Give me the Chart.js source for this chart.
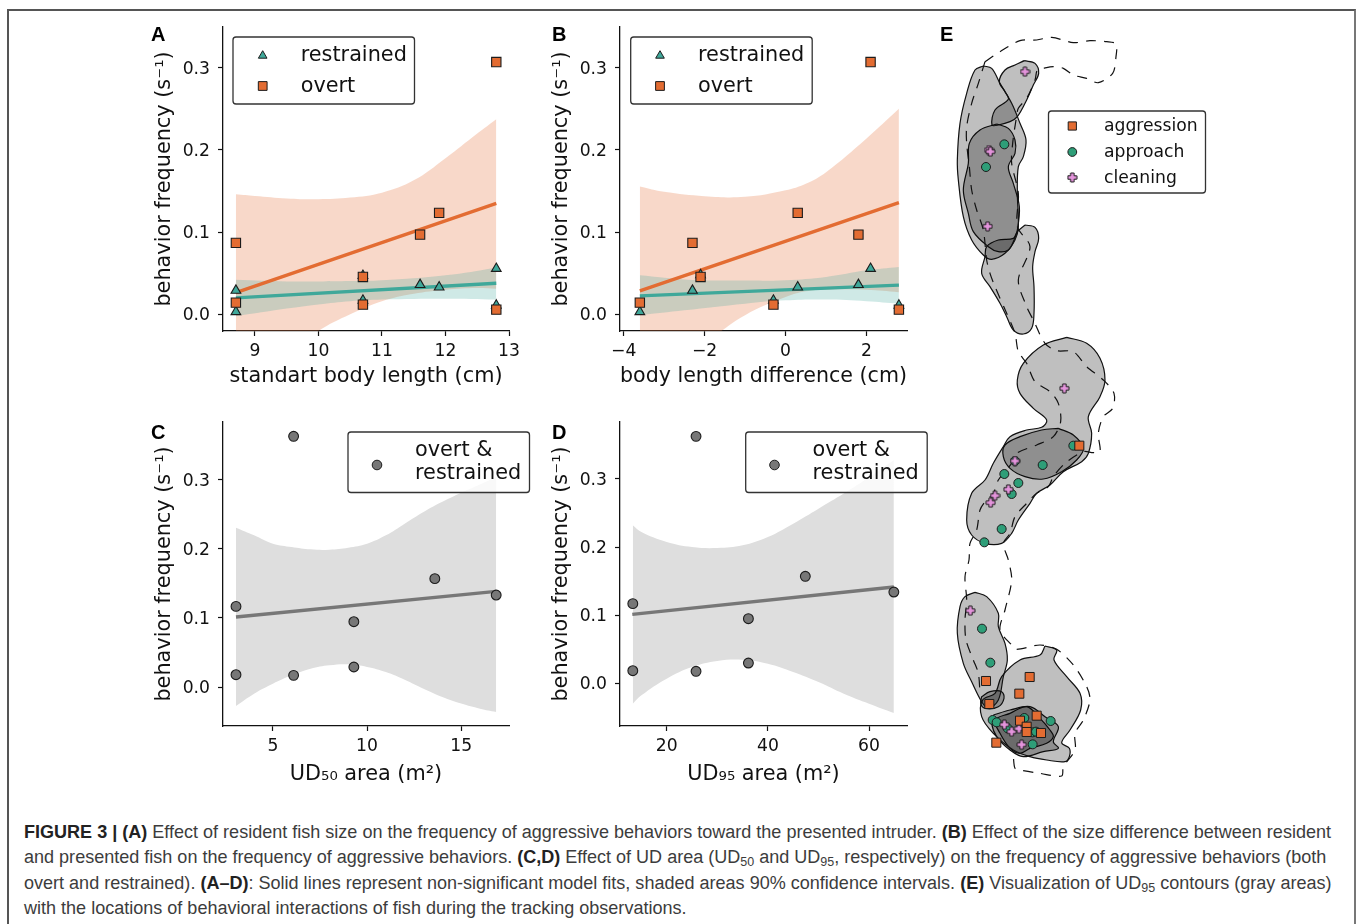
<!DOCTYPE html>
<html><head><meta charset="utf-8">
<script src="https://cdn.jsdelivr.net/npm/chart.js@4"></script>
<style>
html,body{margin:0;padding:0;background:#fff;width:1358px;height:924px;overflow:hidden}
#frame{position:absolute;left:7px;top:9px;width:1349px;height:930px;border:solid;border-width:2px 2px 0 2px;border-color:#555 #777 #777 #555;box-sizing:border-box}
canvas{position:absolute}
.tag{position:absolute;font:bold 20px/20px "Liberation Sans";color:#000}
.cap{position:absolute;left:24px;white-space:nowrap;font:18.05px/20px "Liberation Sans";color:#3c3c3c}
.cap b{color:#222}
.cap sub{font-size:12.5px;line-height:0;vertical-align:-3px}
</style></head><body>
<div id="frame"></div>
<canvas id="pa" width="400" height="380" style="left:140px;top:15px"></canvas>
<canvas id="pb" width="400" height="380" style="left:540px;top:15px"></canvas>
<canvas id="pc" width="400" height="380" style="left:140px;top:410px"></canvas>
<canvas id="pd" width="400" height="380" style="left:540px;top:410px"></canvas>
<canvas id="pe" width="290" height="770" style="left:930px;top:20px"></canvas>
<div class="tag" style="left:151px;top:24px">A</div>
<div class="tag" style="left:552px;top:24px">B</div>
<div class="tag" style="left:151px;top:422px">C</div>
<div class="tag" style="left:552px;top:422px">D</div>
<div class="tag" style="left:940px;top:24px">E</div>
<div class="cap" style="top:822px"><b>FIGURE 3 | (A)</b> Effect of resident fish size on the frequency of aggressive behaviors toward the presented intruder. <b>(B)</b> Effect of the size difference between resident</div>
<div class="cap" style="top:847px">and presented fish on the frequency of aggressive behaviors. <b>(C,D)</b> Effect of UD area (UD<sub>50</sub> and UD<sub>95</sub>, respectively) on the frequency of aggressive behaviors (both</div>
<div class="cap" style="top:873px">overt and restrained). <b>(A–D)</b>: Solid lines represent non-significant model fits, shaded areas 90% confidence intervals. <b>(E)</b> Visualization of UD<sub>95</sub> contours (gray areas)</div>
<div class="cap" style="top:898px">with the locations of behavioral interactions of fish during the tracking observations.</div>
<script>
// ---------- Panel A ----------
const aOvertX=[8.7,8.7,10.7,10.7,11.6,11.9,12.8,12.8];
const aOvertY=[.0869,.0142,.0455,.0118,.097,.1234,.307,.0057];
const aRestrX=[8.7,8.7,10.7,10.7,11.6,11.9,12.8,12.8];
const aRestrY=[.029,.003,.047,.017,.036,.033,.0556,.011];
const aOvertFitX=[8.7,12.8], aOvertFitY=[.0264,.135];
const aRestrFitX=[8.7,12.8], aRestrFitY=[.02,.0378];
const aOvertBandX=[8.7,9,9.5,10,10.5,11,11.5,12,12.5,12.8];
const aOvertUpper=[.146,.144,.141,.14,.142,.148,.163,.19,.22,.2375];
const aOvertLower=[-.095,-.08,-.05,-.0203,.0,.016,.025,.03,.032,.031];
const aRestrBandX=[8.7,9.5,10,10.5,11,12,12.8];
const aRestrUpper=[.042,.04,.04,.0405,.0415,.0475,.0568];
const aRestrLower=[-.0024,.007,.012,.016,.018,.019,.018];
// ---------- Panel B ----------
const bOvertX=[-3.6,-2.3,-2.1,-.3,.3,1.8,2.1,2.8];
const bOvertY=[.0142,.0869,.0455,.0118,.1234,.097,.307,.0057];
const bRestrX=[-3.6,-2.3,-2.1,-.3,.3,1.8,2.1,2.8];
const bRestrY=[.003,.029,.048,.017,.033,.036,.0556,.011];
const bOvertFitX=[-3.6,2.8], bOvertFitY=[.0285,.136];
const bRestrFitX=[-3.6,2.8], bRestrFitY=[.0225,.0355];
const bOvertBandX=[-3.6,-3,-2,-1,0,.5,1,2,2.8];
const bOvertUpper=[.1555,.149,.1437,.143,.151,.159,.173,.214,.25];
const bOvertLower=[-.085,-.06,-.034,-.001,.021,.028,.03,.03,.027];
const bRestrBandX=[-3.6,-2.5,-1,0,1,2,2.8];
const bRestrUpper=[.0475,.0425,.041,.0415,.0455,.0535,.0577];
const bRestrLower=[-.001,.005,.013,.017,.018,.016,.013];
// ---------- Panel C ----------
const cX=[3.04,3.04,6.1,6.1,9.3,9.3,13.6,16.86];
const cY=[.1167,.0178,.3628,.0169,.0945,.029,.1568,.1331];
const cFitX=[3.04,16.86], cFitY=[.1013,.1384];
const cBandX=[3.04,4,5,6,7,8,9,10,11,12,13,14,15,16,16.86];
const cUpper=[.2306,.2195,.2074,.2026,.1992,.1987,.2016,.2074,.2195,.2364,.2533,.268,.281,.293,.304];
const cLower=[-.0275,-.0096,.0048,.0169,.0265,.0314,.0328,.029,.0217,.0106,-.0024,-.0145,-.024,-.0314,-.0362];
// ---------- Panel D ----------
const dX=[13.3,13.3,25.8,25.8,36.15,36.15,47.4,64.9];
const dY=[.1167,.0181,.3627,.0172,.0946,.0294,.1569,.1338];
const dFitX=[13.2,64.9], dFitY=[.101,.1412];
const dBandX=[13.3,15,20,25,30,35,40,45,50,55,60,64.9];
const dUpper=[.2319,.222,.2074,.2,.1985,.2025,.2147,.2343,.2564,.2785,.3025,.3275];
const dLower=[-.0304,-.0181,.0064,.0235,.0324,.0343,.0284,.0162,.0015,-.0157,-.0304,-.0441];
// ---------- tick labels ----------
const abYTicks=[0,.1,.2,.3], cdYTicks=[0,.1,.2,.3];
const aXTicks=[9,10,11,12,13], bXTicks=[-4,-2,0,2], cXTicks=[5,10,15], dXTicks=[20,40,60];
const yTitle='behavior frequency (s⁻¹)';
const aXTitle='standart body length (cm)', bXTitle='body length difference (cm)';
const cXTitle='UD₅₀ area (m²)', dXTitle='UD₉₅ area (m²)';
const abLegend=['restrained','overt'], cdLegend=['overt &','restrained'];
const eLegend=['aggression','approach','cleaning'];
// ---------- Panel E: tank-map coordinates ----------
const eContours=[
 [[160,138],[185,145],[210,190],[245,250],[270,310],[288,360],[280,410],[265,440],[262,520],[265,620],[255,660],[225,700],[185,718],[160,705],[125,660],[100,590],[85,480],[82,420],[90,310],[110,220],[135,150],[160,138]],
 [[283,122],[315,130],[326,160],[310,195],[290,240],[262,290],[240,305],[205,315],[186,315],[195,270],[235,238],[225,215],[208,185],[225,150],[255,135],[283,122]],
 [[200,312],[235,325],[255,360],[255,400],[235,440],[250,490],[268,560],[262,630],[250,665],[235,690],[205,695],[175,680],[130,635],[115,580],[100,510],[115,430],[118,370],[150,330],[200,312]],
 [[285,615],[315,622],[326,655],[315,695],[308,740],[312,800],[312,880],[305,925],[280,942],[250,930],[230,890],[210,850],[180,800],[155,760],[165,710],[170,680],[205,660],[250,655],[262,635],[285,615]],
 [[410,952],[470,970],[510,1015],[525,1080],[510,1130],[475,1190],[485,1240],[475,1300],[455,1325],[400,1355],[360,1395],[320,1420],[300,1450],[265,1500],[245,1540],[215,1570],[165,1570],[125,1545],[110,1500],[125,1420],[165,1380],[190,1330],[220,1280],[240,1250],[290,1230],[335,1222],[350,1200],[310,1165],[270,1120],[262,1080],[280,1030],[340,975],[410,952]],
 [[385,1225],[430,1245],[460,1285],[440,1320],[395,1355],[340,1377],[285,1370],[240,1345],[220,1310],[225,1275],[270,1250],[335,1230],[385,1225]],
 [[135,1717],[170,1730],[205,1780],[205,1820],[225,1870],[232,1920],[220,1970],[205,2040],[175,2065],[155,2045],[125,1985],[100,1930],[82,1840],[90,1760],[105,1730],[135,1717]],
 [[345,1878],[380,1890],[372,1920],[410,1970],[450,2020],[452,2070],[420,2130],[395,2168],[418,2185],[418,2210],[405,2225],[350,2220],[300,2210],[250,2190],[190,2140],[155,2090],[158,2040],[195,2020],[215,1970],[270,1920],[330,1905],[345,1878]],
 [[190,2085],[240,2070],[300,2060],[345,2090],[385,2120],[370,2165],[385,2185],[340,2195],[280,2210],[240,2190],[200,2150],[185,2110],[190,2085]],
 [[240,2080],[290,2060],[330,2095],[360,2130],[370,2150],[350,2170],[300,2185],[270,2200],[240,2185],[210,2140],[195,2100],[240,2080]],
 [[155,2030],[180,2015],[215,2015],[222,2035],[205,2060],[165,2065],[152,2050],[155,2030]]
];
const eTrackRight=[[165,125],[210,95],[270,62],[320,60],[365,52],[430,68],[480,62],[530,65],[558,72],[558,110],[548,160],[505,188],[470,175],[430,165],[400,145],[370,140],[340,145],[322,150],[315,180],[290,235],[265,265],[258,300],[248,370],[245,430],[265,520],[262,620],[300,680],[265,780],[290,860],[310,900],[345,970],[380,992],[430,995],[470,1040],[520,1080],[552,1120],[548,1165],[520,1190],[505,1240],[510,1295],[490,1298],[460,1295],[405,1330],[370,1370],[355,1400],[320,1420],[290,1450],[255,1490],[240,1540],[220,1570],[235,1620],[245,1680],[225,1770],[210,1830],[245,1875],[260,1888],[330,1875],[380,1888],[430,1935],[470,2000],[480,2040],[460,2100],[435,2140],[435,2190],[400,2240],[395,2268],[330,2260],[270,2250],[255,2245],[250,2210]];
const eTrackLeft=[[165,125],[145,190],[125,250],[110,320],[110,370],[118,440],[125,510],[140,570],[160,630],[170,720],[180,760],[195,800],[230,880],[255,940],[265,995],[290,1030],[315,1085],[360,1115],[385,1150],[392,1205],[370,1250],[320,1275],[260,1300],[245,1330],[205,1380],[190,1420],[165,1445],[150,1470],[140,1530],[120,1570],[117,1620],[105,1670],[110,1740],[105,1800],[108,1860],[130,1920],[145,1960],[150,2020]];
const eAggression=[[448,1277],[168,1983],[299,1971],[268,2021],[178,2052],[320,2087],[270,2102],[290,2120],[290,2136],[333,2139],[199,2168]];
const eApproach=[[223,373],[168,441],[430,1277],[338,1335],[223,1362],[265,1389],[245,1422],[215,1527],[163,1567],[255,1323],[156,1826],[181,1928],[188,2100],[200,2107],[233,2125],[283,2094],[308,2137],[318,2135],[308,2173],[362,2103]];
const eCleaning=[[285,155],[177,390],[181,395],[173,619],[403,1105],[255,1323],[235,1408],[195,1427],[182,1448],[121,1772],[223,2114],[245,2135],[267,2126],[275,2174]];

// ---------- styling ----------
const ORANGE='#E36C32', TEAL='#3FA89A', GREY='#777777', EDGE='#1c1c1c', INK='#111';
const ORANGE_BAND='rgba(228,110,55,.27)', TEAL_BAND='rgba(63,168,154,.25)', GREY_BAND='#dedede';
const FONT='"DejaVu Sans"';
const zip=(xs,ys)=>xs.map((x,i)=>({x,y:ys[i]}));
const pairs=a=>a.map(p=>({x:p[0],y:p[1]}));
function plusMarker(size){
  const c=document.createElement('canvas');c.width=c.height=size;
  const g=c.getContext('2d'),m=size/2,o=size/2-1,w=o*.38;
  g.beginPath();
  [[-w,-o],[w,-o],[w,-w],[o,-w],[o,w],[w,w],[w,o],[-w,o],[-w,w],[-o,w],[-o,-w],[-w,-w]].forEach((p,i)=>i?g.lineTo(m+p[0],m+p[1]):g.moveTo(m+p[0],m+p[1]));
  g.closePath();g.fillStyle='#E494DC';g.fill();g.strokeStyle=EDGE;g.lineWidth=1;g.stroke();
  return c;
}
const scatter=(data,style,radius,color,order,w)=>({data,pointStyle:style,pointRadius:radius,pointBackgroundColor:color,pointBorderColor:EDGE,pointBorderWidth:w||1.1,showLine:false,clip:false,order});
const fit=(data,color,order)=>({data,borderColor:color,borderWidth:3.4,pointRadius:0,fill:false,order,borderCapStyle:'butt'});
const bandPair=(xs,up,lo,color,order)=>[
 {data:zip(xs,up),borderWidth:0,borderColor:'transparent',pointRadius:0,tension:.4,fill:'+1',backgroundColor:color,order},
 {data:zip(xs,lo),borderWidth:0,borderColor:'transparent',pointRadius:0,tension:.4,fill:false,order:order+1}];

const frameLegend={id:'frameLegend',afterDatasetsDraw(chart,_,o){
  if(!o.box)return;
  const c=chart.ctx,[x,y,w,h]=o.box;
  c.save();
  c.beginPath();c.roundRect(x,y,w,h,3);
  c.fillStyle='rgba(255,255,255,.8)';c.fill();
  c.lineWidth=1.3;c.strokeStyle='#333';c.stroke();
  o.markers.forEach(m=>{
    c.fillStyle=m.color;c.strokeStyle=EDGE;c.lineWidth=1;
    Chart.helpers.drawPoint(c,{pointStyle:m.style,rotation:0,radius:m.radius,borderWidth:1},m.x,m.y);
  });
  c.fillStyle=INK;c.textBaseline='middle';c.textAlign='left';c.font=o.size+'px '+FONT;
  o.texts.forEach(t=>c.fillText(t.text,t.x,t.y));
  c.restore();
}};
Chart.register(frameLegend);

function noPad(s){s.paddingTop=s.paddingBottom=s.paddingLeft=s.paddingRight=0;}
function axisOpts(min,max,ticks,fmt,title,extra,pad,titlePad,shift){
  return Object.assign({type:'linear',min,max,
    afterBuildTicks(s){s.ticks=ticks.map(v=>({value:v}));},
    grid:{drawOnChartArea:false,drawTicks:true,tickLength:5,tickColor:INK,tickWidth:1.2},
    border:{display:true,color:INK,width:1.3},
    ticks:{padding:pad,color:INK,labelOffset:shift,font:{family:FONT,size:17.2},maxRotation:0,autoSkip:false,callback:fmt},
    title:{display:true,text:title,color:INK,font:{family:FONT,size:20.8},padding:titlePad}},extra);
}
const fmtY=v=>v.toFixed(1);
const fmtX=v=>String(v).replace('-','\u2212');

function panel(id,datasets,left,right,xMin,xMax,xTicks,xTitle,yMin,yMax,yTicks,xTitlePad,yTitlePad,legend){
  new Chart(document.getElementById(id),{type:'line',data:{datasets},
   options:{responsive:false,animation:false,devicePixelRatio:1,
    layout:{autoPadding:false,padding:{top:12,right:400-right,left:0,bottom:0}},
    plugins:{legend:{display:false},tooltip:{enabled:false},frameLegend:legend},
    scales:{
      x:axisOpts(xMin,xMax,xTicks,fmtX,xTitle,{position:'bottom',afterFit(s){s.height=64;noPad(s);}},5,{top:0,bottom:xTitlePad},0),
      y:axisOpts(yMin,yMax,yTicks,fmtY,yTitle,{position:'left',afterFit(s){s.width=left;noPad(s);}},8,{top:yTitlePad,bottom:0},1.5)
    }}});
}
const legend2=(ox,mx,tx,labels)=>({box:[ox,22,181.5,67],
  markers:[{style:'triangle',radius:5,color:TEAL,x:mx,y:40.7},{style:'rect',radius:6.2,color:ORANGE,x:mx,y:71}],
  texts:[{text:labels[0],x:tx,y:41},{text:labels[1],x:tx,y:71.5}],size:20.8});
const legend1=(ox,mx,tx,labels)=>({box:[ox,22,181.5,60.5],
  markers:[{style:'circle',radius:4.8,color:GREY,x:mx,y:55}],
  texts:[{text:labels[0],x:tx,y:41},{text:labels[1],x:tx,y:64}],size:20.8});

panel('pa',[
  scatter(zip(aOvertX,aOvertY),'rect',6.6,ORANGE,0),
  scatter(zip(aRestrX,aRestrY),'triangle',5.6,TEAL,1),
  fit(zip(aRestrFitX,aRestrFitY),TEAL,2),
  fit(zip(aOvertFitX,aOvertFitY),ORANGE,3),
  ...bandPair(aRestrBandX,aRestrUpper,aRestrLower,TEAL_BAND,4),
  ...bandPair(aOvertBandX,aOvertUpper,aOvertLower,ORANGE_BAND,6)
],83,369,8.497,13,aXTicks,aXTitle,-.0203,.3496,abYTicks,6,11.7,legend2(93,122.7,160.7,abLegend));
panel('pb',[
  scatter(zip(bOvertX,bOvertY),'rect',6.6,ORANGE,0),
  scatter(zip(bRestrX,bRestrY),'triangle',5.6,TEAL,1),
  fit(zip(bRestrFitX,bRestrFitY),TEAL,2),
  fit(zip(bOvertFitX,bOvertFitY),ORANGE,3),
  ...bandPair(bRestrBandX,bRestrUpper,bRestrLower,TEAL_BAND,4),
  ...bandPair(bOvertBandX,bOvertUpper,bOvertLower,ORANGE_BAND,6)
],80,367,-4.09,3,bXTicks,bXTitle,-.0203,.3496,abYTicks,6,9.4,legend2(90.7,120,158,abLegend));
panel('pc',[
  scatter(zip(cX,cY),'circle',4.9,GREY,0),
  fit(zip(cFitX,cFitY),GREY,1),
  ...bandPair(cBandX,cUpper,cLower,GREY_BAND,2)
],83,369,2.35,17.54,cXTicks,cXTitle,-.0564,.3835,cdYTicks,3,11.7,legend1(208,237,275,cdLegend));
panel('pd',[
  scatter(zip(dX,dY),'circle',4.9,GREY,0),
  fit(zip(dFitX,dFitY),GREY,1),
  ...bandPair(dBandX,dUpper,dLower,GREY_BAND,2)
],80,367,10.77,67.5,dXTicks,dXTitle,-.0632,.3838,cdYTicks,3,9.4,legend1(205.7,234.5,272.5,cdLegend));

// ---------- Panel E ----------
const plus=plusMarker(11);
const eSets=[
  scatter(pairs(eAggression),'rect',6.4,ORANGE,0,1),
  scatter(pairs(eCleaning),plus,6,'#E494DC',1,0),
  scatter(pairs(eApproach),'circle',4.5,'#2E9E78',2,1),
  {data:pairs(eTrackRight),borderColor:'#111',borderWidth:1.2,borderDash:[10,8],pointRadius:0,tension:.3,fill:false,order:3},
  {data:pairs(eTrackLeft),borderColor:'#111',borderWidth:1.2,borderDash:[10,8],pointRadius:0,tension:.3,fill:false,order:3},
  ...eContours.map(c=>({data:pairs(c),fill:'shape',backgroundColor:'rgba(0,0,0,.25)',borderColor:'#111',borderWidth:1.2,pointRadius:0,tension:.35,order:4}))
];
new Chart(document.getElementById('pe'),{type:'line',data:{datasets:eSets},
 options:{responsive:false,animation:false,devicePixelRatio:1,layout:{autoPadding:false},
  plugins:{legend:{display:false},tooltip:{enabled:false},
   frameLegend:{box:[118.5,91,157,82],size:17.2,
    markers:[{style:'rect',radius:5.8,color:ORANGE,x:142.3,y:106},{style:'circle',radius:4.4,color:'#2E9E78',x:142.3,y:132},{style:plus,radius:6,color:'#E494DC',x:142.3,y:157.5}],
    texts:[{text:eLegend[0],x:174,y:107},{text:eLegend[1],x:174,y:133},{text:eLegend[2],x:174,y:158.5}]}},
  scales:{x:{type:'linear',display:false,min:0,max:870},y:{type:'linear',display:false,min:0,max:2310,reverse:true}}}});
</script>
</body></html>
